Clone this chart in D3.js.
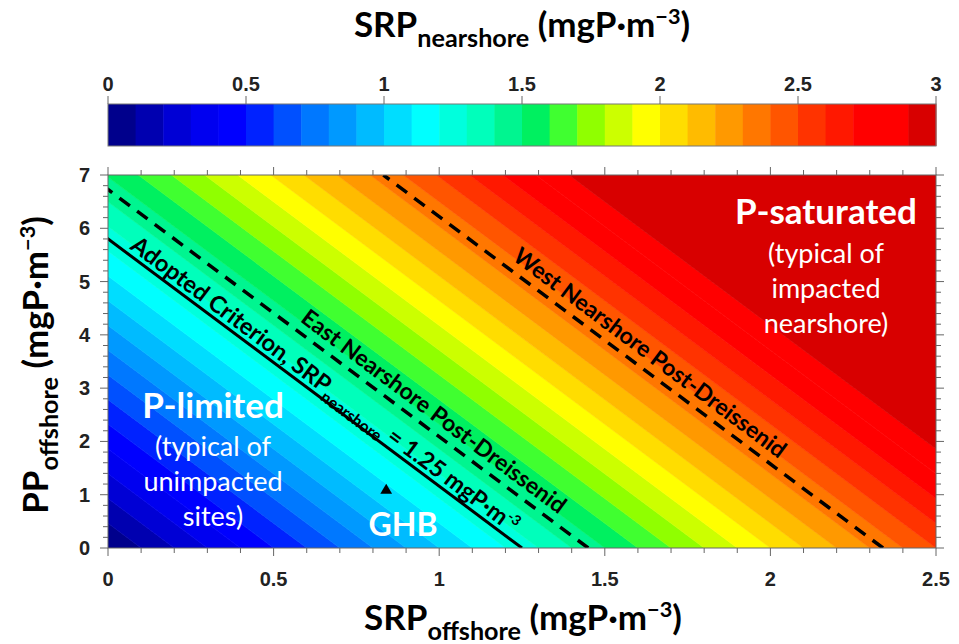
<!DOCTYPE html>
<html><head><meta charset="utf-8">
<script src="https://cdn.jsdelivr.net/npm/d3@7"></script>
<style>body{margin:0;background:#fff}</style>
</head><body>
<svg id="c" width="959" height="644"></svg>
<script>
// ---------- data ----------
const srpLevels = [0,0.1,0.2,0.3,0.4,0.5,0.6,0.7,0.8,0.9,1.0,1.1,1.2,1.3,1.4,1.5,1.6,1.7,1.8,1.9,2.0,2.1,2.2,2.3,2.4,2.5,2.6,2.7,2.8,2.9,3.0];
const levelColors = ["#00008c","#0000b0","#0000d5","#0000f0","#0000ff","#0022ff","#0050ff","#0078ff","#0099ff","#00bbff",
  "#00ddff","#00ffff","#00ffdd","#00ffbb","#00f590","#00f060","#40ff30","#90ff00","#ccff00","#ffff00",
  "#ffdd00","#ffbb00","#ff9900","#ff7700","#ff5500","#ff3300","#ff1800","#ff0000","#ff0000","#d80000"];
const cbTicks = [0,0.5,1,1.5,2,2.5,3];
const xTicks = [0,0.5,1,1.5,2,2.5];
const yTicks = [0,1,2,3,4,5,6,7];
const ppWeight = 0.2155; // SRP_nearshore = SRP_offshore + ppWeight * PP_offshore
const criteria = [
  {key:"adopted", value:1.25, dashed:false},
  {key:"east", value:1.45, dashed:true},
  {key:"west", value:2.34, dashed:true}
];
const ghb = {srp:0.84, pp:1.08, label:"GHB"};

// ---------- layout ----------
const svg = d3.select("#c");
const L=108, R=936, T=175, B=548;
const x = d3.scaleLinear().domain([0,2.5]).range([L,R]);
const y = d3.scaleLinear().domain([0,7]).range([B,T]);
const cb = d3.scaleLinear().domain([0,3]).range([L,R]);
const CBT=104, CBB=146;
const sans = "Lato, 'Open Sans', sans-serif";
const tickFont = "'Liberation Sans', Arial, sans-serif";

svg.append("defs").append("clipPath").attr("id","plotclip")
  .append("rect").attr("x",L).attr("y",T).attr("width",R-L).attr("height",B-T);

// ---------- filled bands ----------
const ppMax = 7;
const bands = levelColors.map((c,i)=>({lo:srpLevels[i], hi: i===levelColors.length-1 ? 20 : srpLevels[i+1], color:c}));
const g = svg.append("g").attr("clip-path","url(#plotclip)");
g.selectAll("path.band").data(bands).join("path").attr("class","band")
  .attr("fill",d=>d.color).attr("stroke",d=>d.color).attr("stroke-width",0.6)
  .attr("d",d=>{
    const pts=[[d.lo,0],[d.hi,0],[d.hi-ppWeight*ppMax,ppMax],[d.lo-ppWeight*ppMax,ppMax]];
    return "M"+pts.map(p=>[x(p[0]),y(p[1])].join(",")).join("L")+"Z";
  });
// criterion lines
g.selectAll("line.crit").data(criteria).join("line").attr("class","crit")
  .attr("x1",d=>x(d.value)).attr("y1",y(0))
  .attr("x2",d=>x(d.value-ppWeight*ppMax)).attr("y2",y(ppMax))
  .attr("stroke","#000").attr("stroke-width",d=>d.dashed?3.5:3)
  .attr("stroke-dasharray",d=>d.dashed?"13,9":null);

// ---------- frame & ticks ----------
svg.append("rect").attr("x",L).attr("y",T).attr("width",R-L).attr("height",B-T)
  .attr("fill","none").attr("stroke","#666").attr("stroke-width",1);
const xMinor = d3.range(0,2.5001,0.1), yMinor = d3.range(0,7.001,0.2);
const tk = svg.append("g").attr("stroke","#666").attr("stroke-width",1);
xMinor.forEach(v=>{
  const major = Math.abs(v*2-Math.round(v*2))<1e-6;
  const len = major?8:5;
  tk.append("line").attr("x1",x(v)).attr("x2",x(v)).attr("y1",B).attr("y2",B+len);
  tk.append("line").attr("x1",x(v)).attr("x2",x(v)).attr("y1",T).attr("y2",T-len);
});
yMinor.forEach(v=>{
  const major = Math.abs(v-Math.round(v))<1e-6;
  const len = major?8:5;
  tk.append("line").attr("y1",y(v)).attr("y2",y(v)).attr("x1",L).attr("x2",L-len);
  tk.append("line").attr("y1",y(v)).attr("y2",y(v)).attr("x1",R).attr("x2",R+len);
});
svg.append("g").selectAll("text").data(xTicks).join("text")
  .attr("x",d=>x(d)).attr("y",586).attr("text-anchor","middle")
  .attr("font-family",tickFont).attr("font-weight","bold").attr("font-size",20).attr("fill","#222")
  .text(d=>d);
svg.append("g").selectAll("text").data(yTicks).join("text")
  .attr("x",90).attr("y",d=>y(d)+7).attr("text-anchor","end")
  .attr("font-family",tickFont).attr("font-weight","bold").attr("font-size",20).attr("fill","#222")
  .text(d=>d);

// ---------- colorbar ----------
svg.append("g").selectAll("rect").data(bands).join("rect")
  .attr("x",(d,i)=>cb(srpLevels[i])).attr("y",CBT)
  .attr("width",(d,i)=>cb(srpLevels[i+1])-cb(srpLevels[i])+0.5).attr("height",CBB-CBT)
  .attr("fill",d=>d.color);
svg.append("rect").attr("x",L).attr("y",CBT).attr("width",R-L).attr("height",CBB-CBT)
  .attr("fill","none").attr("stroke","#777").attr("stroke-width",1);
svg.append("g").selectAll("line").data(cbTicks).join("line")
  .attr("x1",d=>cb(d)).attr("x2",d=>cb(d)).attr("y1",CBT).attr("y2",CBT-8)
  .attr("stroke","#666");
svg.append("g").selectAll("text").data(cbTicks).join("text")
  .attr("x",d=>cb(d)).attr("y",91).attr("text-anchor","middle")
  .attr("font-family",tickFont).attr("font-weight","bold").attr("font-size",20).attr("fill","#222")
  .text(d=>d);

// ---------- titles ----------
function unitLabel(sel, main, sub, size){
  sel.attr("font-family",sans).attr("font-weight","bold").attr("font-size",size).attr("fill","#000");
  sel.append("tspan").text(main);
  sel.append("tspan").attr("font-size",size*0.72).attr("dy",size*0.28).text(sub);
  sel.append("tspan").attr("dy",-size*0.28).text(" (mgP·m");
  sel.append("tspan").attr("font-size",size*0.62).attr("dy",-size*0.38).text("−3");
  sel.append("tspan").attr("dy",size*0.38).text(")");
}
unitLabel(svg.append("text").attr("x",522).attr("y",37).attr("text-anchor","middle"),"SRP","nearshore",35);
unitLabel(svg.append("text").attr("x",523).attr("y",630).attr("text-anchor","middle"),"SRP","offshore",35);
unitLabel(svg.append("text").attr("transform","translate(48,365) rotate(-90)").attr("text-anchor","middle"),"PP","offshore",35);

// ---------- annotations ----------
function block(cx, lines){
  lines.forEach(l=>{
    svg.append("text").attr("x",cx).attr("y",l.y).attr("text-anchor","middle")
      .attr("font-family",sans).attr("font-weight",l.bold?"bold":"normal")
      .attr("font-size",l.size).attr("fill","#fff").text(l.t);
  });
}
block(213,[{t:"P-limited",y:418,size:35,bold:true},{t:"(typical of",y:456,size:27},{t:"unimpacted",y:491,size:27},{t:"sites)",y:526,size:27}]);
block(826,[{t:"P-saturated",y:224,size:35,bold:true},{t:"(typical of",y:263,size:27},{t:"impacted",y:298,size:27},{t:"nearshore)",y:333,size:27}]);

// GHB
svg.append("path").attr("d",d3.symbol(d3.symbolTriangle,60)())
  .attr("transform",`translate(${x(ghb.srp)},${y(ghb.pp)})`).attr("fill","#000");
svg.append("text").attr("x",403).attr("y",536).attr("text-anchor","middle")
  .attr("font-family",sans).attr("font-weight","bold").attr("font-size",32).attr("fill","#fff").text(ghb.label);

// rotated line labels
const ang = Math.atan2(y(0)-y(1), x(ppWeight)-x(0))*180/Math.PI;
function lineLabel(c, px, off, size){
  const yAt = d3.scaleLinear().domain([x(c.value), x(c.value-ppWeight*ppMax)]).range([y(0),y(ppMax)]);
  const a = ang*Math.PI/180;
  const bx = px + off*Math.sin(a), by = yAt(px) - off*Math.cos(a);
  return svg.append("text").attr("transform",`translate(${bx},${by}) rotate(${ang})`)
    .attr("font-family",sans).attr("font-weight","bold").attr("font-size",size).attr("fill","#000");
}
const t1 = lineLabel(criteria[0],126,5,23.5);
t1.append("tspan").text("Adopted Criterion, SRP");
t1.append("tspan").attr("font-size",16).attr("dy",7).text("nearshore");
t1.append("tspan").attr("dy",-7).text(" = 1.25 mgP·m");
t1.append("tspan").attr("font-size",14).attr("dy",-9).text("-3");
const t2 = lineLabel(criteria[1],294,9,23);
t2.text("East Nearshore Post-Dreissenid");
const t3 = lineLabel(criteria[2],506,9,23);
t3.text("West Nearshore Post-Dreissenid");
</script>
</body></html>
